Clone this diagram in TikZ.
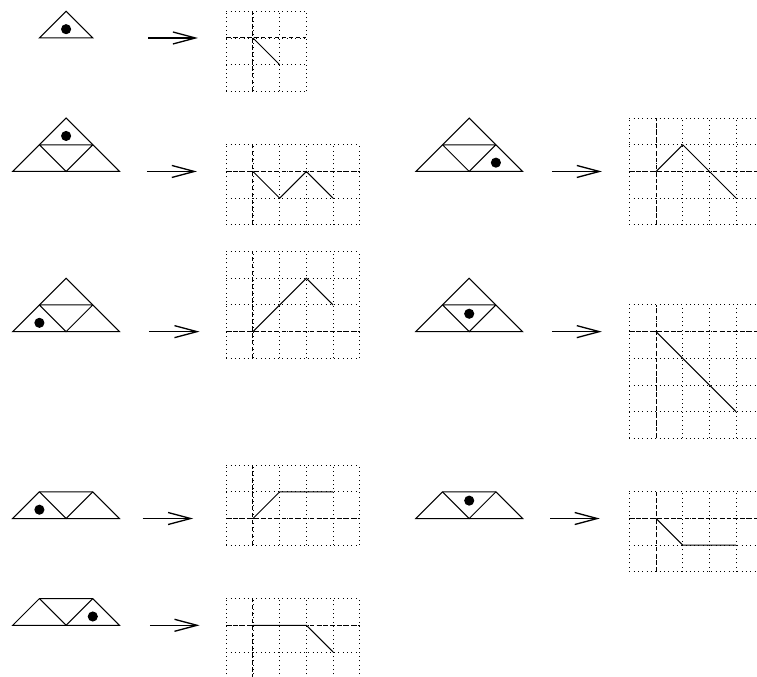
\documentclass[tikz,border=0pt]{standalone}
\usetikzlibrary{arrows.meta}

\tikzset{
  tile/.style={line width=0.55pt},
  gridline/.style={line width=0.5pt, dash pattern=on 0.5pt off 1.8pt, step=0.5cm},
  axisline/.style={line width=0.55pt, dash pattern=on 2.4pt off 1.3pt},
  walk/.style={line width=0.55pt},
  maps/.style={line width=0.7pt, -{Straight Barb[length=12pt,width=6.4pt]}}
}

\begin{document}
\begin{tikzpicture}[x=0.5cm,y=0.5cm]
\useasboundingbox (-0.476,1.423) rectangle (27.88,-23.93);
\clip (-0.476,1.423) rectangle (27.88,-23.93);

% one triangle
\begin{scope}
\draw[tile] (1,0) -- (2,1) -- (3,0) -- cycle;
\fill (2,0.33) circle (0.19);
\coordinate (s1) at (5.07,0);
\coordinate (t1) at (6.94,0);
\draw[maps] (s1) -- (t1);
\draw[gridline] (8,-2) grid (11,1);
\draw[axisline] (8,0) -- (11,0) (9,-2) -- (9,1);
\draw[walk] (9,0) -- (10,-1);
\end{scope}

% four triangles, top
\begin{scope}[shift={(0,-5)}]
\draw[tile] (0,0) -- (2,2) -- (4,0) -- cycle;
\draw[tile] (1,1) -- (3,1) (1,1) -- (2,0) -- (3,1);
\fill (2,1.33) circle (0.19);
\coordinate (s2) at (5.03,0);
\coordinate (t2) at (6.9,0);
\draw[maps] (s2) -- (t2);
\draw[gridline] (8,-2) grid (13,1);
\draw[axisline] (8,0) -- (13,0) (9,-2) -- (9,1);
\draw[walk] (9,0) -- (10,-1) -- (11,0) -- (12,-1);
\end{scope}

% four triangles, right
\begin{scope}[shift={(15.1,-5)}]
\draw[tile] (0,0) -- (2,2) -- (4,0) -- cycle;
\draw[tile] (1,1) -- (3,1) (1,1) -- (2,0) -- (3,1);
\fill (3,0.33) circle (0.19);
\coordinate (s3) at (5.1,0);
\coordinate (t3) at (6.97,0);
\draw[maps] (s3) -- (t3);
\draw[gridline] (8,-2) grid (13,2);
\draw[axisline] (8,0) -- (13,0) (9,-2) -- (9,2);
\draw[walk] (9,0) -- (10,1) -- (12,-1);
\end{scope}

% four triangles, left
\begin{scope}[shift={(0,-11)}]
\draw[tile] (0,0) -- (2,2) -- (4,0) -- cycle;
\draw[tile] (1,1) -- (3,1) (1,1) -- (2,0) -- (3,1);
\fill (1,0.33) circle (0.19);
\coordinate (s4) at (5.1,0);
\coordinate (t4) at (7,0);
\draw[maps] (s4) -- (t4);
\draw[gridline] (8,-1) grid (13,3);
\draw[axisline] (8,0) -- (13,0) (9,-1) -- (9,3);
\draw[walk] (9,0) -- (11,2) -- (12,1);
\end{scope}

% four triangles, middle
\begin{scope}[shift={(15.1,-11)}]
\draw[tile] (0,0) -- (2,2) -- (4,0) -- cycle;
\draw[tile] (1,1) -- (3,1) (1,1) -- (2,0) -- (3,1);
\fill (2,0.67) circle (0.19);
\coordinate (s5) at (5.1,0);
\coordinate (t5) at (6.97,0);
\draw[maps] (s5) -- (t5);
\draw[gridline] (8,-4) grid (13,1);
\draw[axisline] (8,0) -- (13,0) (9,-4) -- (9,1);
\draw[walk] (9,0) -- (12,-3);
\end{scope}

% three triangles, left
\begin{scope}[shift={(0,-18)}]
\draw[tile] (0,0) -- (1,1) -- (3,1) -- (4,0) -- cycle;
\draw[tile] (1,1) -- (2,0) -- (3,1);
\fill (1,0.33) circle (0.19);
\coordinate (s6) at (4.87,0);
\coordinate (t6) at (6.76,0);
\draw[maps] (s6) -- (t6);
\draw[gridline] (8,-1) grid (13,2);
\draw[axisline] (8,0) -- (13,0) (9,-1) -- (9,2);
\draw[walk] (9,0) -- (10,1) -- (12,1);
\end{scope}

% three triangles, middle
\begin{scope}[shift={(15.1,-18)}]
\draw[tile] (0,0) -- (1,1) -- (3,1) -- (4,0) -- cycle;
\draw[tile] (1,1) -- (2,0) -- (3,1);
\fill (2,0.67) circle (0.19);
\coordinate (s7) at (5.03,0);
\coordinate (t7) at (6.89,0);
\draw[maps] (s7) -- (t7);
\draw[gridline] (8,-2) grid (13,1);
\draw[axisline] (8,0) -- (13,0) (9,-2) -- (9,1);
\draw[walk] (9,0) -- (10,-1) -- (12,-1);
\end{scope}

% three triangles, right
\begin{scope}[shift={(0,-22)}]
\draw[tile] (0,0) -- (1,1) -- (3,1) -- (4,0) -- cycle;
\draw[tile] (1,1) -- (2,0) -- (3,1);
\fill (3,0.33) circle (0.19);
\coordinate (s8) at (5.14,0);
\coordinate (t8) at (7,0);
\draw[maps] (s8) -- (t8);
\draw[gridline] (8,-2) grid (13,1);
\draw[axisline] (8,0) -- (13,0) (9,-2) -- (9,1);
\draw[walk] (9,0) -- (11,0) -- (12,-1);
\end{scope}
\end{tikzpicture}
\end{document}
